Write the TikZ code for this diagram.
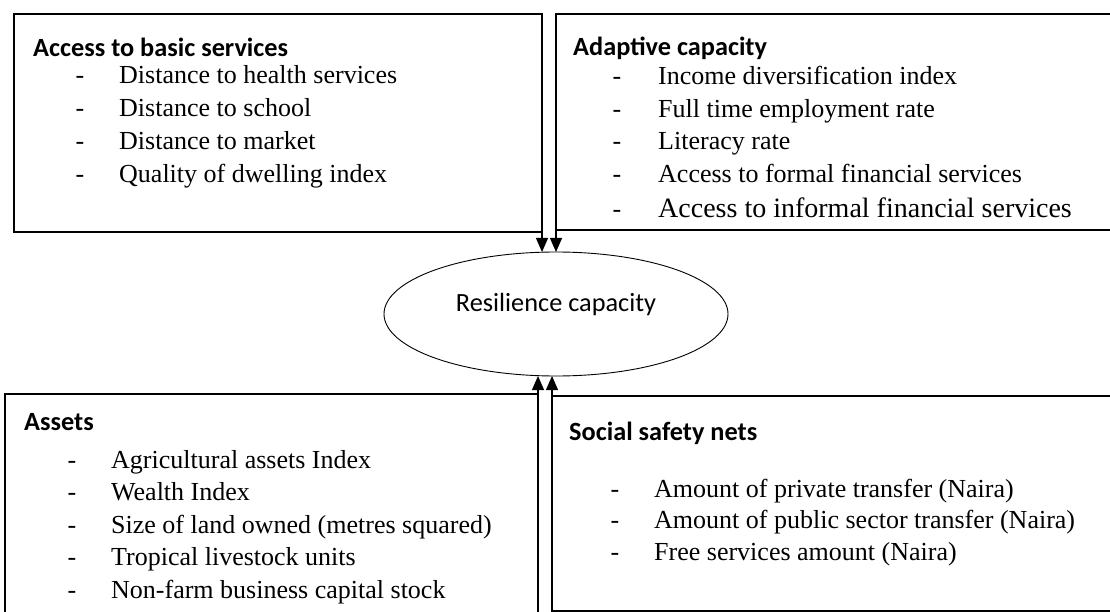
\documentclass[tikz,border=0pt]{standalone}
\usepackage{fontspec}
\setmainfont{Liberation Serif}
\newfontfamily\calibri{Carlito}
\usetikzlibrary{arrows.meta,shapes.geometric}
\tikzset{
  framebox/.style={draw, line width=1.2pt, outer sep=0pt, inner sep=0pt, anchor=north west},
  ttl/.style={font=\calibri\bfseries\fontsize{26.3}{30}\selectfont, inner sep=0pt, anchor=base west},
  itm/.style={font=\fontsize{26}{30}\selectfont, inner sep=0pt, anchor=base west},
  dsh/.style={font=\fontsize{26}{30}\selectfont, inner sep=0pt, anchor=base},
  arr/.style={line width=1.2pt, -{Triangle[length=14pt,width=12pt]}},
}
\begin{document}
\begin{tikzpicture}[x=1pt,y=-1pt]
\useasboundingbox (0,0) rectangle (1110,612);
% boxes
\node[framebox, minimum width=528pt, minimum height=218pt] (b1) at (14,14) {};
\node[framebox, minimum width=570pt, minimum height=216pt] (b2) at (556,14) {};
\node[framebox, minimum width=533pt, minimum height=240pt] (b3) at (5,394) {};
\node[framebox, minimum width=570pt, minimum height=215pt] (b4) at (552,396) {};
% ellipse
\node[draw, ellipse, line width=0.9pt, minimum width=344pt, minimum height=124pt, inner sep=0pt, outer sep=0pt] (rc) at (556,314) {};
\node[font=\calibri\fontsize{26.3}{30}\selectfont, inner sep=0pt, anchor=base] (rct) at (556,311) {Resilience capacity};
% box 1
\node[ttl] (t1) at (33,57) {Access to basic services};
\node[dsh] (d11) at (80,84) {-};  \node[itm] (i11) at (119,84) {Distance to health services};
\node[dsh] (d12) at (80,117) {-}; \node[itm] (i12) at (119,117) {Distance to school};
\node[dsh] (d13) at (80,150) {-}; \node[itm] (i13) at (119,150) {Distance to market};
\node[dsh] (d14) at (80,183) {-}; \node[itm] (i14) at (119,183) {Quality of dwelling index};
% box 2
\node[ttl] (t2) at (573,56) {Adaptive capacity};
\node[dsh] (d21) at (617,85) {-};  \node[itm] (i21) at (658,85) {Income diversification index};
\node[dsh] (d22) at (617,118) {-}; \node[itm] (i22) at (658,118) {Full time employment rate};
\node[dsh] (d23) at (617,150) {-}; \node[itm] (i23) at (658,150) {Literacy rate};
\node[dsh] (d24) at (617,183) {-}; \node[itm] (i24) at (658,183) {Access to formal financial services};
\node[dsh] (d25) at (617,218) {-}; \node[itm, font=\fontsize{28}{32}\selectfont] (i25) at (658,218) {Access to informal financial services};
% box 3
\node[ttl] (t3) at (24,430) {Assets};
\node[dsh] (d31) at (72,468) {-}; \node[itm] (i31) at (111,468) {Agricultural assets Index};
\node[dsh] (d32) at (72,500) {-}; \node[itm] (i32) at (111,500) {Wealth Index};
\node[dsh] (d33) at (72,533) {-}; \node[itm] (i33) at (111,533) {Size of land owned (metres squared)};
\node[dsh] (d34) at (72,565) {-}; \node[itm] (i34) at (111,565) {Tropical livestock units};
\node[dsh] (d35) at (72,598) {-}; \node[itm] (i35) at (111,598) {Non-farm business capital stock};
% box 4
\node[ttl] (t4) at (569,440) {Social safety nets};
\node[dsh] (d41) at (615,497) {-}; \node[itm] (i41) at (654,497) {Amount of private transfer (Naira)};
\node[dsh] (d42) at (615,528) {-}; \node[itm] (i42) at (654,528) {Amount of public sector transfer (Naira)};
\node[dsh] (d43) at (615,560) {-}; \node[itm] (i43) at (654,560) {Free services amount (Naira)};
% arrows
\draw[arr] (b1.south east) -- (b1.south east |- rc.north);
\draw[arr] (b2.south west) -- (b2.south west |- rc.north);
\draw[arr] (b3.north east) -- (b3.north east |- rc.south);
\draw[arr] (b4.north west) -- (b4.north west |- rc.south);
\end{tikzpicture}
\end{document}
